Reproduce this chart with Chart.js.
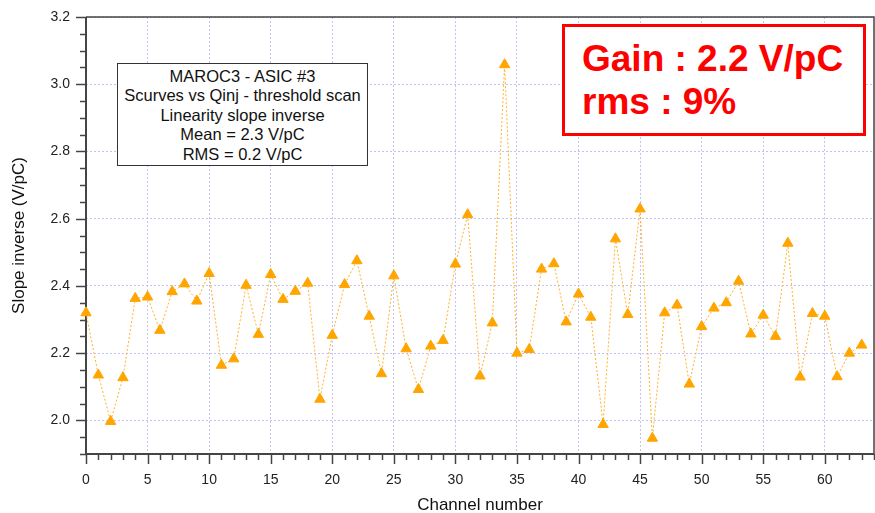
<!DOCTYPE html>
<html>
<head>
<meta charset="utf-8">
<script src="https://cdn.jsdelivr.net/npm/chart.js@4"></script>
<style>
  body { margin: 0; background: #fff; }
  #wrap { position: relative; width: 875px; height: 513px; overflow: hidden; font-family: "Liberation Sans", Arial, sans-serif; }
  .infoBox {
    position: absolute; left: 117px; top: 63px; width: 251px; height: 103px;
    box-sizing: border-box; border: 1.5px solid #333; background: #fff;
    text-align: center; font-size: 16.5px; line-height: 19.4px; color: #111; padding-top: 3px;
  }
  .gainBox {
    position: absolute; left: 562px; top: 24px; width: 304px; height: 112px;
    box-sizing: border-box; border: 3px solid #ff0000; background: #fff;
    color: #ff0000; font-weight: bold; font-size: 37px; line-height: 43px;
    padding: 10px 0 0 17px;
  }
</style>
</head>
<body>
<div id="wrap">
  <!-- canvas is a bit wider than the view: the line controller keeps room for the last marker on the right -->
  <canvas id="slopeChart" width="881" height="513"></canvas>
  <div class="infoBox">
    MAROC3 - ASIC #3<br>
    Scurves vs Qinj - threshold scan<br>
    Linearity slope inverse<br>
    Mean = 2.3 V/pC<br>
    RMS = 0.2 V/pC
  </div>
  <div class="gainBox">Gain : 2.2 V/pC<br>rms : 9%</div>
</div>
<script>
// Channel numbers 0..63
const channels = [];
for (let i = 0; i < 64; i++) channels.push(i);

// Slope inverse (V/pC)
const slopeValues = [
  2.32, 2.135, 1.997, 2.127, 2.363, 2.367, 2.268, 2.383, 2.406, 2.355,
  2.437, 2.164, 2.183, 2.402, 2.256, 2.434, 2.36, 2.384, 2.408, 2.063,
  2.253, 2.404, 2.475, 2.31, 2.139, 2.43, 2.213, 2.092, 2.221, 2.238,
  2.465, 2.612, 2.132, 2.29, 3.058, 2.2, 2.211, 2.45, 2.466, 2.293,
  2.376, 2.307, 1.988, 2.54, 2.315, 2.629, 1.947, 2.32, 2.343, 2.108,
  2.279, 2.334, 2.35, 2.414, 2.257, 2.313, 2.25, 2.527, 2.129, 2.318,
  2.31, 2.13, 2.2, 2.224
];

// Axis ranges and tick steps
const xRange = [0, 64];
const yRange = [1.9, 3.2];
const xStep = 1, xMajor = 5;
const yStep = 0.05, yMajor = 0.2;

const gridColor = '#c4c4f4';
const axisColor = '#444';

function isMajorX(v) { return Math.round(v) % xMajor === 0; }
function isMajorY(v) { return Math.round(v * 100) % Math.round(yMajor * 100) === 0; }

// Draws the frame and the outward tick marks
const framePlugin = {
  id: 'frame',
  beforeDatasetsDraw(chart) {
    const ctx = chart.ctx;
    const a = chart.chartArea;
    const xs = chart.scales.x, ys = chart.scales.y;
    ctx.save();
    ctx.strokeStyle = axisColor;
    ctx.lineWidth = 1.5;
    // top & right
    ctx.beginPath();
    ctx.moveTo(a.left, a.top); ctx.lineTo(a.right, a.top); ctx.lineTo(a.right, a.bottom);
    ctx.stroke();
    // left & bottom axes
    ctx.lineWidth = 2;
    ctx.beginPath();
    ctx.moveTo(a.left, a.top); ctx.lineTo(a.left, a.bottom); ctx.lineTo(a.right, a.bottom);
    ctx.stroke();
    ctx.lineWidth = 1.5;
    xs.ticks.forEach(t => {
      const px = Math.round(xs.getPixelForValue(t.value)) + 0.5;
      const len = isMajorX(t.value) ? 10 : 6;
      ctx.beginPath(); ctx.moveTo(px, a.bottom); ctx.lineTo(px, a.bottom + len); ctx.stroke();
    });
    ys.ticks.forEach(t => {
      const py = Math.round(ys.getPixelForValue(t.value)) + 0.5;
      const len = isMajorY(t.value) ? 10 : 6;
      ctx.beginPath(); ctx.moveTo(a.left, py); ctx.lineTo(a.left - len, py); ctx.stroke();
    });
    ctx.restore();
  }
};

const tickFont = { family: '"Liberation Sans", Arial, sans-serif', size: 14 };
const titleFont = { family: '"Liberation Sans", Arial, sans-serif', size: 17 };

new Chart(document.getElementById('slopeChart'), {
  type: 'line',
  data: {
    labels: channels,
    datasets: [{
      data: channels.map((c, i) => ({ x: c, y: slopeValues[i] })),
      borderColor: 'rgba(255,170,20,0.9)',
      borderWidth: 1,
      borderDash: [2, 2],
      pointStyle: 'triangle',
      pointRadius: 6,
      pointBackgroundColor: '#ffa500',
      pointBorderColor: '#ffa500',
      pointBorderWidth: 1,
      tension: 0,
      clip: false
    }]
  },
  options: {
    responsive: false,
    animation: false,
    layout: { padding: { top: 17, right: 1, left: 0, bottom: 0 } },
    plugins: { legend: { display: false }, tooltip: { enabled: false } },
    scales: {
      x: {
        type: 'linear',
        min: xRange[0], max: xRange[1],
        afterFit(s) { s.height = 59; s.paddingLeft = 0; s.paddingRight = 0; },
        ticks: {
          stepSize: xStep, autoSkip: false, maxRotation: 0, padding: 18,
          color: '#222', font: tickFont,
          callback: v => isMajorX(v) && v < xRange[1] ? String(v) : ''
        },
        grid: {
          drawTicks: false,
          color: c => isMajorX(c.tick.value) ? gridColor : 'rgba(0,0,0,0)',
          lineWidth: 1
        },
        border: { display: false, dash: [2, 2] },
        title: { display: true, text: 'Channel number', color: '#111', font: titleFont, padding: { top: 0, bottom: -3 } }
      },
      y: {
        min: yRange[0], max: yRange[1],
        afterFit(s) { s.width = 86; s.paddingTop = 0; s.paddingBottom = 0; },
        ticks: {
          stepSize: yStep, autoSkip: false, padding: 16,
          color: '#222', font: tickFont,
          callback: v => isMajorY(v) ? v.toFixed(1) : ''
        },
        grid: {
          drawTicks: false,
          color: c => isMajorY(c.tick.value) ? gridColor : 'rgba(0,0,0,0)',
          lineWidth: 1
        },
        border: { display: false, dash: [2, 2] },
        title: { display: true, text: 'Slope inverse (V/pC)', color: '#111', font: titleFont, padding: { top: 9, bottom: 0 } }
      }
    }
  },
  plugins: [framePlugin]
});
</script>
</body>
</html>
